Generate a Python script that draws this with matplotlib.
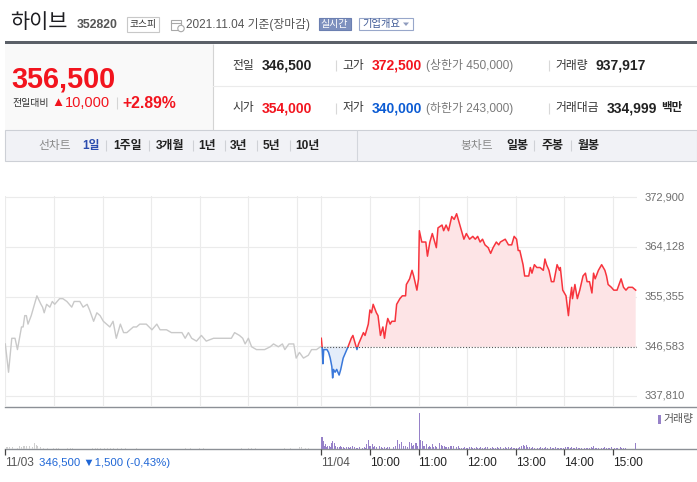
import matplotlib
matplotlib.use('Agg')
import matplotlib.pyplot as plt
from matplotlib.patches import Rectangle, Circle, Polygon
from matplotlib import transforms
import numpy as np

plt.rcParams['font.family'] = ['Liberation Sans', 'Noto Sans CJK KR', 'DejaVu Sans']

W, H = 697, 482

# ---------------- data ----------------
prev_close = 346500
y_ticks = [337810, 346583, 355355, 364128, 372900]
y_tick_labels = ['337,810', '346,583', '355,355', '364,128', '372,900']

# minutes after 09:00; day 2 is shifted by one session (390 minutes)
session_len = 390
x_tick_min = [0, 390, 450, 510, 570, 630, 690, 750]
x_tick_labels = ['11/03', '11/04', '10:00', '11:00', '12:00', '13:00', '14:00', '15:00']
grid_min = [0, 60, 120, 180, 240, 300, 360, 390, 450, 510, 570, 630, 690, 750]

# 11/03 (previous day) price line
day1_min = [0, 4, 8, 12, 15, 20, 22, 24, 26, 28,
            32, 39, 44, 46, 48, 51, 55, 58, 61, 67,
            71, 76, 82, 85, 92, 96, 101, 104, 109, 113,
            117, 121, 125, 129, 133, 137, 142, 146, 150, 154,
            158, 162, 166, 174, 181, 187, 191, 199, 205, 211,
            218, 222, 226, 230, 236, 242, 248, 257, 265, 273,
            279, 283, 289, 293, 296, 300, 304, 310, 315, 320,
            327, 331, 337, 342, 345, 350, 356, 359, 363, 368,
            374, 378, 384, 389]
day1_price = [347000, 342000, 348000, 348000, 346000, 350000, 350000, 352000, 352000, 350500,
              352000, 355500, 354000, 353500, 352500, 354000, 353500, 354500, 354000, 355000,
              355000, 354500, 353500, 354500, 354500, 353500, 354000, 353000, 351000, 352500,
              352000, 351000, 350500, 350000, 351000, 348000, 350500, 349000, 349000, 349500,
              350000, 350000, 350500, 350500, 349500, 350500, 349500, 349500, 349000, 349000,
              349000, 348000, 349000, 348000, 347500, 348500, 347500, 348000, 348000, 348000,
              348000, 349000, 348500, 348000, 347000, 348000, 346500, 346000, 346000, 346000,
              346500, 347000, 346500, 347000, 346000, 347000, 347000, 344500, 345500, 344500,
              345000, 346000, 346000, 346500]

# 11/04 price line
day2_min = [0, 1, 2, 3, 7, 9, 11, 13, 14, 15,
            17, 19, 22, 24, 27, 30, 33, 37, 39, 41,
            44, 46, 49, 52, 54, 58, 60, 62, 64, 68,
            70, 73, 76, 78, 80, 82, 85, 87, 91, 93,
            97, 100, 104, 105, 109, 112, 114, 118, 120, 121,
            124, 127, 129, 131, 134, 137, 142, 144, 149, 151,
            154, 157, 161, 164, 167, 170, 173, 176, 179, 183,
            187, 190, 193, 196, 199, 202, 206, 209, 212, 216,
            219, 221, 227, 231, 235, 238, 241, 243, 245, 249,
            251, 256, 258, 260, 263, 266, 270, 274, 276, 278,
            281, 284, 287, 291, 294, 295, 298, 302, 305, 307,
            309, 310, 313, 316, 319, 323, 326, 328, 331, 334,
            336, 338, 342, 346, 350, 352, 354, 358, 361, 365,
            370, 373, 376, 379, 384, 388]
day2_price = [348000, 346500, 343500, 346000, 346000, 345500, 344500, 343000, 341000, 342500,
              342000, 342500, 341500, 342500, 344500, 345500, 346500, 348000, 348500, 347500,
              346000, 347000, 348000, 349000, 348500, 350500, 353000, 352500, 354000, 352500,
              352000, 348500, 350000, 348000, 350000, 351500, 350500, 351000, 351000, 354000,
              355000, 355500, 355500, 357500, 358500, 360000, 359000, 356500, 358500, 367000,
              365000, 365000, 365000, 362500, 365000, 366500, 364000, 367500, 368000, 367000,
              368000, 367000, 369500, 369000, 370000, 368500, 367000, 365500, 366500, 365500,
              366000, 365500, 366000, 365000, 365500, 364500, 364000, 363000, 364000, 365000,
              364500, 365000, 365500, 364500, 364500, 366000, 365500, 363500, 363500, 361000,
              359000, 359000, 360500, 359500, 361000, 360500, 360500, 360000, 362000, 361000,
              360000, 358000, 358000, 361000, 360000, 360500, 356500, 355500, 352000, 355000,
              357000, 355000, 357500, 355000, 356500, 359000, 359500, 358000, 358000, 356000,
              359500, 358500, 360000, 361000, 360000, 359000, 357500, 357000, 356500, 356500,
              358500, 357000, 356500, 357000, 357000, 356500]

# volumes (shares per minute)
vol1_min = [1, 3, 5, 7, 9, 12, 15, 18, 20, 22,
            24, 26, 28, 30, 33, 36, 38, 40, 43, 47,
            52, 60, 63, 66, 77, 80, 83, 86, 108, 111,
            114, 118, 122, 126, 130, 134, 138, 143, 148, 162,
            222, 228, 240, 245, 292, 300, 304, 309, 345, 352,
            360, 363, 366, 370, 374]
vol1 = [1600, 1600, 2000, 1600, 1600, 1600, 1200, 2400, 2000, 2400,
        2800, 2400, 2000, 2400, 2000, 4800, 3200, 2400, 1600, 800,
        800, 800, 800, 800, 800, 800, 800, 800, 1200, 1200,
        1200, 800, 1200, 1200, 800, 1200, 800, 1200, 1200, 800,
        800, 800, 800, 800, 1200, 1200, 800, 800, 800, 800,
        2000, 1600, 2000, 1200, 800]

vol2_min = [0, 1, 2, 3, 4, 5, 6, 8, 10, 11,
            13, 14, 16, 17, 18, 20, 22, 24, 25, 27,
            29, 31, 33, 35, 36, 38, 39, 41, 43, 45,
            47, 49, 51, 53, 55, 56, 58, 59, 61, 63,
            64, 66, 68, 70, 72, 74, 76, 78, 80, 82,
            84, 86, 89, 91, 92, 94, 96, 97, 99, 101,
            102, 104, 106, 107, 109, 111, 112, 114, 116, 118,
            119, 121, 123, 125, 126, 127, 130, 132, 134, 135,
            137, 139, 141, 142, 144, 146, 148, 150, 152, 153,
            155, 157, 159, 161, 163, 165, 167, 169, 171, 173,
            175, 177, 179, 181, 183, 185, 187, 189, 191, 193,
            195, 197, 199, 201, 203, 205, 207, 209, 211, 213,
            215, 217, 219, 221, 223, 225, 227, 229, 231, 233,
            235, 237, 239, 241, 243, 245, 247, 249, 251, 253,
            255, 257, 259, 261, 263, 265, 267, 269, 271, 273,
            275, 277, 279, 281, 283, 285, 287, 289, 291, 293,
            295, 297, 299, 301, 302, 304, 305, 307, 309, 311,
            313, 315, 317, 319, 321, 323, 325, 327, 329, 331,
            333, 335, 336, 338, 340, 342, 344, 346, 348, 350,
            352, 354, 356, 358, 360, 362, 364, 366, 369, 371,
            373, 375, 388]
vol2 = [9600, 2400, 9600, 6400, 2400, 4000, 1600, 2400, 2400, 1600,
        4800, 6400, 4800, 2400, 1600, 1600, 1600, 2400, 1600, 1600,
        1200, 1600, 1600, 1200, 1600, 1200, 2400, 1600, 1200, 1200,
        1600, 1200, 1200, 1600, 1200, 4000, 7200, 2400, 2400, 4000,
        1600, 2400, 1600, 1200, 2400, 1600, 1200, 1600, 1200, 1600,
        1600, 1200, 1600, 1200, 2400, 7200, 4000, 2400, 5600, 2400,
        1600, 2400, 1600, 4000, 5600, 4800, 2400, 3200, 4800, 4800,
        2400, 28800, 7200, 6400, 2400, 2400, 4000, 1600, 2400, 1600,
        4000, 1600, 2400, 1600, 2400, 4800, 3200, 2400, 2400, 1600,
        1600, 1600, 2400, 2400, 2400, 2400, 1600, 2400, 1200, 1200,
        1200, 1600, 1200, 1200, 1600, 2000, 1200, 1200, 1600, 1200,
        1200, 1600, 1200, 1200, 1600, 1600, 1200, 1200, 1600, 1200,
        1200, 1600, 1200, 2000, 1200, 1200, 1600, 1200, 2000, 1200,
        1600, 1200, 1200, 1200, 1200, 1600, 2400, 3200, 2400, 3200,
        1600, 1600, 1200, 2000, 1200, 1600, 1200, 1200, 2000, 1200,
        1200, 1600, 1200, 2000, 1600, 1200, 1200, 1600, 1200, 1200,
        1200, 1200, 1200, 1600, 6400, 1600, 1600, 1200, 1600, 1200,
        1200, 1600, 1200, 1200, 1200, 1600, 1200, 1200, 1200, 1200,
        1600, 1200, 2400, 1200, 1200, 1200, 2400, 1200, 1200, 1600,
        1200, 1200, 1200, 1600, 1200, 1200, 1200, 1200, 1600, 1200,
        1200, 1200, 4800]

# ---------------- colours ----------------
RED = '#f2141e'
BLUE = '#1a62d6'
LINE_RED = '#f7343d'
LINE_BLUE = '#3a78da'
FILL_RED = '#fde4e6'
FILL_BLUE = '#e4edfa'
GRID = '#ebebeb'
AXIS = '#8c9096'

fig = plt.figure(figsize=(W / 100, H / 100), dpi=100)
fig.patch.set_facecolor('white')

bg = fig.add_axes([0, 0, 1, 1])
bg.set_xlim(0, W)
bg.set_ylim(H, 0)
bg.axis('off')


def pax(l, t, r, b):
    a = fig.add_axes([l / W, 1 - b / H, (r - l) / W, (b - t) / H])
    a.patch.set_alpha(0)
    for s in a.spines.values():
        s.set_visible(False)
    return a


def T(x, y, s, size=8.5, color='#333', weight='normal', ha='left', va='center', **kw):
    return bg.text(x, y, s, fontsize=size, color=color, weight=weight, ha=ha, va=va, **kw)


def vline(x, y0, y1, color='#d8d8d8', lw=0.8):
    bg.plot([x, x], [y0, y1], color=color, lw=lw, solid_capstyle='butt')


# ---------------- header ----------------
T(10, 22, '하이브', size=15, color='#1e1e22', weight='light')
T(77, 24.5, '352820', size=8.8, color='#555', weight='bold')
bg.add_patch(Rectangle((127, 16.5), 32, 15, fc='white', ec='#c8c8c8', lw=0.8))
T(143, 24, '코스피', size=7, color='#333', ha='center')
# calendar icon
bg.add_patch(Rectangle((171, 19.5), 10, 10.5, fc='white', ec='#a8a8a8', lw=0.8))
bg.plot([171, 181], [22.5, 22.5], color='#a8a8a8', lw=0.8)
bg.add_patch(Circle((181, 28.5), 3.2, fc='white', ec='#a8a8a8', lw=0.8))
T(186, 24.5, '2021.11.04 기준(장마감)', size=8.5, color='#555')
bg.add_patch(Rectangle((318.5, 17.5), 32, 12.5, fc='#7d90be', ec='#6b7fb1', lw=0.8))
T(334.5, 24, '실시간', size=7.2, color='white', ha='center')
bg.add_patch(Rectangle((359, 17.5), 53.5, 12.5, fc='white', ec='#98a7ca', lw=0.8))
T(362.5, 24, '기업개요', size=7.4, color='#3f5a96')
bg.add_patch(Polygon([[403, 22.5], [409, 22.5], [406, 26]], closed=True, fc='#8f9cbf', lw=0))

# dark bar
bg.add_patch(Rectangle((5, 40.5), W - 5, 3.5, fc='#5b6068', lw=0))
# left panel
bg.add_patch(Rectangle((5, 44), 208, 85.5, fc='#f9f9f9', lw=0))
vline(213, 44, 129.5, color='#d4d4d4')
bg.plot([213, W], [86, 86], color='#ebebeb', lw=0.8)

# price block
T(11, 87, '356,500', size=20.8, color=RED, weight='bold', va='baseline')
T(12, 103, '전일대비', size=7.2, color='#333')
T(51, 103, '▲', size=9.5, color=RED)
T(64.5, 103, '10,000', size=10.5, color=RED)
vline(116.5, 97, 109, color='#d5d5d5')
T(122, 103, '+2.89%', size=11.3, color=RED, weight='bold')

# info rows
r1, r2 = 65.5, 108.3
T(232, r1, '전일', size=8.5, color='#333')
T(262, r1, '346,500', size=10, color='#222', weight='bold')
vline(336, 60, 71)
T(342.5, r1, '고가', size=8.5, color='#333')
T(372, r1, '372,500', size=10, color=RED, weight='bold')
T(426.5, r1, '(상한가 450,000)', size=8.6, color='#7a7a7a')
vline(549.3, 60, 71)
T(555, r1, '거래량', size=8.5, color='#333')
T(596, r1, '937,917', size=10, color='#222', weight='bold')

T(232, r2, '시가', size=8.5, color='#333')
T(262, r2, '354,000', size=10, color=RED, weight='bold')
vline(336, 102.5, 113.5)
T(342.5, r2, '저가', size=8.5, color='#333')
T(372, r2, '340,000', size=10, color='#0b5bd3', weight='bold')
T(426.5, r2, '(하한가 243,000)', size=8.6, color='#7a7a7a')
vline(549.3, 102.5, 113.5)
T(555, r2, '거래대금', size=8.5, color='#333')
T(607, r2, '334,999', size=10, color='#222', weight='bold')
T(661, r2, '백만', size=8.3, color='#222', weight='bold')

# tab bar
bg.add_patch(Rectangle((5, 129.5), W - 5, 31, fc='#f1f2f6', ec='#cdd0d6', lw=0.8))
vline(357, 129.5, 160.5, color='#d3d6dc')
ty = 145.5
T(38, ty, '선차트', size=8.5, color='#8a8a8a')
T(82.5, ty, '1일', size=8.5, color='#2b4cae', weight='bold')
tabs = [(113.5, '1주일'), (155.5, '3개월'), (198.5, '1년'), (230, '3년'), (263, '5년'), (295.5, '10년')]
for x, s in tabs:
    T(x, ty, s, size=8.6, color='#222', weight='bold')
for x in [105.5, 149, 192.5, 224.5, 257, 289.5]:
    vline(x, 140, 151, color='#cfd1d6')
T(460, ty, '봉차트', size=8.5, color='#8a8a8a')
T(506.5, ty, '일봉', size=8.6, color='#222', weight='bold')
T(541, ty, '주봉', size=8.6, color='#222', weight='bold')
T(577.5, ty, '월봉', size=8.6, color='#222', weight='bold')
for x in [533.5, 570.5]:
    vline(x, 140, 151, color='#cfd1d6')

# ---------------- price chart ----------------
ax = pax(5.3, 196, 637.3, 406.5)
ax.set_xlim(0, 2 * session_len)
ax.set_ylim(335950, 373130)
ax.set_xticks([])
ax.set_yticks([])
for y in y_ticks:
    ax.axhline(y, color=GRID, lw=0.8, zorder=0)
for m in grid_min:
    ax.axvline(m, color=GRID, lw=0.8, zorder=0)
for y, lab in zip(y_ticks, y_tick_labels):
    ax.annotate(lab, xy=(1, y), xycoords=('axes fraction', 'data'), xytext=(5.5, 0),
                textcoords='offset points', ha='left', va='center', fontsize=8, color='#6e6e6e')

ax.plot(day1_min, day1_price, color='#c9c9c9', lw=1.0, zorder=3)

x2 = np.array(day2_min) + session_len
p2 = np.array(day2_price, dtype=float)
ax.fill_between(x2, p2, prev_close, where=p2 >= prev_close, interpolate=True,
                color=FILL_RED, lw=0, zorder=1)
ax.fill_between(x2, p2, prev_close, where=p2 <= prev_close, interpolate=True,
                color=FILL_BLUE, lw=0, zorder=1)
lr, = ax.plot(x2, p2, color=LINE_RED, lw=1.1, zorder=3)
lr.set_clip_path(Rectangle((session_len, prev_close), session_len, 100000, transform=ax.transData))
lb, = ax.plot(x2, p2, color=LINE_BLUE, lw=1.1, zorder=3)
lb.set_clip_path(Rectangle((session_len, prev_close - 100000), session_len, 100000, transform=ax.transData))
ax.plot([session_len, 2 * session_len], [prev_close, prev_close], color='#555',
        lw=0.8, ls=(0, (1, 1.6)), zorder=4)

bg.plot([5, W], [406.7, 406.7], color=AXIS, lw=1.0)

# ---------------- volume ----------------
vax = pax(5.3, 409, 637.3, 449)
vax.set_xlim(0, 2 * session_len)
vax.set_ylim(0, 32000)
vax.set_yticks([])
vax.bar(vol1_min, vol1, width=1.15, color='#cfcfcf', lw=0)
vax.bar(np.array(vol2_min) + session_len, vol2, width=1.15, color='#9681c8', lw=0)
vax.set_xticks(x_tick_min)
vax.set_xticklabels([])
vax.tick_params(axis='x', length=4.5, width=0.9, color='#444', direction='out')

bg.plot([5, W], [449.2, 449.2], color=AXIS, lw=1.0)

tr = transforms.blended_transform_factory(vax.transData, bg.transData)
lab_colors = ['#555', '#555'] + ['#222'] * 6
for m, lab, c in zip(x_tick_min, x_tick_labels, lab_colors):
    bg.text(m, 462.5, lab, transform=tr, fontsize=8.6, color=c, ha='left', va='center')
T(39, 462.5, '346,500 ▼1,500 (-0,43%)', size=8.2, color='#1f66d6')

# legend
bg.add_patch(Rectangle((658, 414.5), 2.8, 9, fc='#9681c8', lw=0))
T(663, 419, '거래량', size=7.8, color='#555')

fig.savefig('out.png', dpi=100, facecolor='white')
